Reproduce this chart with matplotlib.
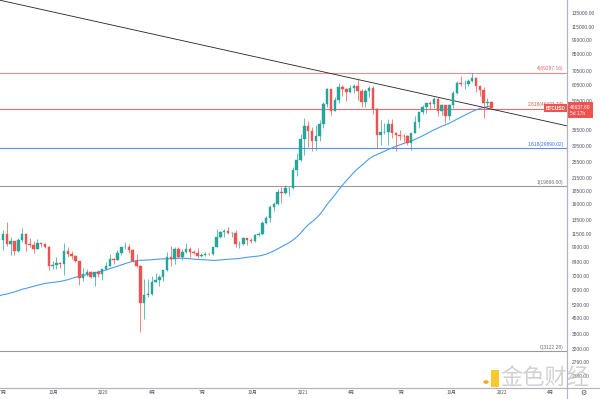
import numpy as np
import pandas as pd
import matplotlib
matplotlib.use("Agg")
import matplotlib.pyplot as plt
import matplotlib.dates as mdates
from matplotlib.patches import Rectangle, Circle
from matplotlib.lines import Line2D

plt.rcParams['font.family'] = ['Liberation Sans', 'Noto Sans CJK SC', 'DejaVu Sans']

# ─── 数据 ─────────────────────────────────────────────────────────────────────
# BTCUSD 周线（每周一开盘），2019-06-24 ~ 2021-12-13
week_start = "2019-06-24"
opens = [10850, 10800, 11450, 10250, 10600, 9500, 10800, 11550, 10300, 10150,
         9760, 10400, 10300, 10000, 8050, 8150, 8300, 8230, 9550, 9200,
         9030, 8500, 7050, 7400, 7500, 7100, 7500, 7380, 7750, 8100,
         8700, 8600, 9300, 9900, 9930, 9650, 8530, 8050, 5350, 5830,
         5880, 6770, 6900, 7130, 7700, 8900, 8730, 9700, 8900, 9450,
         9750, 9450, 9300, 9000, 9080, 9250, 9200, 9950, 11180, 11700,
         11850, 11650, 11680, 10250, 10300, 11050, 10750, 10650, 11350, 11500,
         13050, 13750, 15500, 16050, 18400, 18200, 19150, 19250, 23500, 26300,
         33000, 38200, 36000, 32300, 34300, 38900, 48600, 57500, 45200, 51200,
         59000, 57400, 55800, 58200, 59800, 56150, 50100, 56600, 58250, 46450,
         34700, 35650, 35800, 39000, 35550, 34700, 34250, 34200, 31800, 35400,
         39850, 44600, 47000, 49300, 48850, 51750, 45150, 48300, 42700, 48200,
         54950, 61550, 60900, 61300, 63300, 65500, 59700, 57300, 49350, 50100]
highs = [13880, 12000, 13200, 11100, 10650, 11000, 12300, 11600, 10950, 10600,
         10900, 10450, 10350, 10050, 8550, 8900, 8400, 10400, 9950, 9500,
         9100, 8500, 7850, 7750, 7650, 7550, 7700, 7500, 8450, 9200,
         8800, 9600, 9900, 10500, 10300, 9700, 9200, 8150, 6950, 6950,
         7200, 7450, 7250, 7700, 9450, 10050, 9950, 9950, 9750, 10400,
         9950, 9600, 9800, 9300, 9450, 9350, 10000, 12100, 11900, 12100,
         12480, 11800, 12050, 10600, 11100, 11050, 10950, 11500, 11700, 13350,
         14100, 15950, 16450, 18950, 19450, 19900, 19400, 24300, 28400, 34800,
         41950, 40200, 37900, 38500, 40900, 49700, 58350, 57500, 52650, 61800,
         60600, 58600, 60200, 61200, 64900, 57500, 58000, 59500, 59600, 46650,
         40900, 39400, 41300, 41300, 35750, 36600, 35150, 34650, 35400, 42600,
         44800, 48150, 49400, 50500, 52900, 52900, 48800, 48300, 49000, 56600,
         62900, 67000, 63700, 64300, 69000, 66300, 59900, 59200, 51950, 50500]
lows = [10300, 9600, 10100, 9100, 9150, 9400, 10500, 9500, 9900, 9350,
        9700, 9900, 9800, 7700, 7750, 7800, 7850, 7300, 8950, 8700,
        8400, 6500, 6850, 7200, 7050, 6450, 7100, 6900, 7700, 8050,
        8250, 8600, 9100, 9700, 9300, 8450, 8000, 3850, 4450, 5700,
        5860, 6750, 6450, 6800, 7650, 8100, 8200, 8800, 8650, 9300,
        8950, 9250, 8850, 8950, 9050, 9100, 9150, 9900, 11000, 11150,
        11550, 11150, 9900, 9850, 10200, 10150, 10400, 10550, 11250, 11400,
        12850, 13200, 14850, 15900, 16200, 18000, 17600, 19050, 21850, 26000,
        27700, 30400, 28800, 29200, 32300, 37400, 47000, 43000, 45100, 49300,
        53200, 50300, 55500, 55500, 51300, 47000, 47000, 53000, 43800, 30000,
        31100, 34800, 31000, 33300, 28800, 32700, 32100, 31050, 29300, 35400,
        37500, 43800, 44300, 46450, 46600, 42850, 43400, 39600, 40800, 46900,
        54400, 59500, 58000, 59400, 62300, 55600, 53500, 42000, 47100, 46500]
closes = [10800, 11450, 10250, 10600, 9500, 10800, 11550, 10300, 10150, 9760,
          10400, 10300, 10000, 8050, 8150, 8300, 8230, 9550, 9200, 9030,
          8500, 7050, 7400, 7500, 7100, 7500, 7380, 7750, 8100, 8700,
          8600, 9300, 9900, 9930, 9650, 8530, 8050, 5350, 5850, 5880,
          6770, 6900, 7130, 7700, 8900, 8730, 9700, 8900, 9450, 9750,
          9450, 9300, 9000, 9080, 9250, 9200, 9950, 11180, 11700, 11850,
          11650, 11680, 10250, 10300, 11050, 10750, 10650, 11350, 11500, 13050,
          13750, 15500, 16050, 18400, 18200, 19150, 19250, 23500, 26300, 33000,
          38200, 36000, 32300, 34300, 38900, 48600, 57500, 45200, 51200, 59000,
          57400, 55800, 58200, 59800, 56150, 50100, 56600, 58250, 46450, 34700,
          35650, 35800, 39000, 35550, 34700, 34250, 34200, 31800, 35400, 39850,
          44600, 47000, 49300, 48850, 51750, 45150, 48300, 42700, 48200, 54950,
          61550, 60900, 61300, 63300, 65500, 59700, 57300, 49350, 50100, 46637.6]

# 2018-07-16 ~ 2019-06-17 周收盘价（用于 50 周均线）
prior_closes = [7400, 8200, 7030, 6300, 6490, 6700, 7300, 6250, 6500, 6710,
                6630, 6600, 6300, 6420, 6380, 6480, 6380, 5600, 4000, 4150,
                3600, 3250, 3950, 3900, 4050, 3520, 3550, 3550, 3420, 3650,
                3650, 3830, 3800, 3920, 4000, 3990, 4100, 5200, 5150, 5300,
                5200, 5750, 7000, 8200, 8750, 8550, 7650, 8950, 10850]
MA_LEN = 50

# 斐波那契水平线
fib_names = ["4", "2.618", "1.618", "1", "0"]
fib_prices = [69297.16, 46433.74, 29890.02, 19666.00, 3122.28]
fib_colors = ["#f08a8a", "#ef6a6a", "#5b8def", "#9a9a9a", "#9a9a9a"]
fib_text_colors = ["#e06a6a", "#e05050", "#2f6fe8", "#6f6f6f", "#6f6f6f"]

# 下降趋势线两个锚点
trend_dates = ["2019-06-25", "2022-05-01"]
trend_prices = [155000, 38300]

# 右侧价格刻度
y_ticks = [135000, 115000, 99000, 85000, 70500, 60500, 50500, 36500, 30500,
           25500, 21500, 18500, 16000, 13500, 11500, 9900, 8400, 7200, 6200,
           5200, 4500, 3800, 3200, 2760, 2380]

# 时间刻度
x_tick_dates = ["2019-07-01", "2019-10-01", "2020-01-01", "2020-04-01",
                "2020-07-01", "2020-10-01", "2021-01-01", "2021-04-01",
                "2021-07-01", "2021-10-01", "2022-01-01", "2022-04-01"]
x_tick_labels = ["7月", "10月", "2020", "4月", "7月", "10月", "2021", "4月",
                 "7月", "10月", "2022", "4月"]

last_price = 46637.60
countdown = "5d 17h"

# ─── 绘图 ─────────────────────────────────────────────────────────────────────
UP, DOWN = "#26a69a", "#ef5350"
AXIS_C = "#b2b5be"
TXT_C = "#50535e"

W, H = 600, 399
fig = plt.figure(figsize=(6, 3.99), dpi=100)
ax = fig.add_axes([0, (H - 388) / H, 567 / W, 388 / H])
ax.set_yscale("log")

dates = pd.date_range(week_start, periods=len(closes), freq="7D")
x = mdates.date2num(dates)
o, h, l, c = map(np.array, (opens, highs, lows, closes))
up = c >= o
cols = np.where(up, UP, DOWN)

# 影线
ax.vlines(x, l, h, colors=cols, lw=0.5, zorder=3)
# 实体
body_lo = np.minimum(o, c)
body_hi = np.maximum(o, c)
ax.bar(x, body_hi - body_lo, bottom=body_lo, width=4.6, color=cols,
       edgecolor=cols, linewidth=0.3, zorder=4)

# 50 周均线
all_closes = pd.Series(prior_closes + closes)
ma = all_closes.rolling(MA_LEN).mean().values[len(prior_closes):]
ax.plot(x, ma, color="#4a9ee6", lw=0.8, zorder=2)

# 趋势线
ax.plot(mdates.date2num(pd.to_datetime(trend_dates)), trend_prices,
        color="#222222", lw=0.6, zorder=2)

# 斐波那契线 + 标注
for name, p, lc, tc in zip(fib_names, fib_prices, fib_colors, fib_text_colors):
    ax.axhline(p, color=lc, lw=0.8, zorder=1)
    ax.annotate(f"{name}({p:.2f})", xy=(0.994, p),
                xycoords=ax.get_yaxis_transform(),
                xytext=(0, 0.8), textcoords="offset points",
                ha="right", va="bottom", fontsize=3.5, color=tc, zorder=5)

# 品种标签 + 价格标签
ax.annotate("BTCUSD", xy=(0.997, last_price), xycoords=ax.get_yaxis_transform(),
            ha="right", va="center", fontsize=3.4, color="white",
            fontweight="bold", zorder=10,
            bbox=dict(boxstyle="square,pad=0.35", fc=DOWN, ec="none"))
ax.annotate(f"{last_price:.2f}\n{countdown}", xy=(1.0, last_price),
            xycoords=ax.get_yaxis_transform(),
            xytext=(2.2, 2.6), textcoords="offset points",
            ha="left", va="top", fontsize=3.5, color="white",
            linespacing=1.25, annotation_clip=False, zorder=10,
            bbox=dict(boxstyle="square,pad=0.45", fc=DOWN, ec="none"))

# 坐标轴
ax.set_xlim(mdates.date2num(pd.Timestamp("2019-06-25 12:00")),
            mdates.date2num(pd.Timestamp("2022-05-01")))
ax.set_ylim(2074, 155300)

ax.yaxis.tick_right()
ax.set_yticks(y_ticks)
ax.set_yticklabels([f"{v:.2f}" for v in y_ticks])
ax.yaxis.set_minor_locator(matplotlib.ticker.NullLocator())
ax.tick_params(axis="y", length=0, pad=3.4, labelsize=3.5, labelcolor=TXT_C)

ax.set_xticks(mdates.date2num(pd.to_datetime(x_tick_dates)))
ax.set_xticklabels(x_tick_labels, family=["Noto Sans CJK SC", "DejaVu Sans"])
ax.tick_params(axis="x", length=0, pad=1.6, labelsize=3.3, labelcolor=TXT_C)

for s in ("top", "left"):
    ax.spines[s].set_visible(False)
for s in ("right", "bottom"):
    ax.spines[s].set_color(AXIS_C)
    ax.spines[s].set_linewidth(0.8)

# 右侧竖线延伸到底部，时间轴上沿延伸到右边
fig.add_artist(Line2D([567 / W, 567 / W], [0, 1], color=AXIS_C, lw=0.8))
fig.add_artist(Line2D([0, 1], [(H - 388) / H] * 2, color=AXIS_C, lw=0.8))
fig.text(583 / W, (H - 393) / H, "⚙", family="DejaVu Sans", fontsize=5,
         color=TXT_C, ha="center", va="center")

# 水印
fig.add_artist(Rectangle((491 / W, (H - 387) / H), 8 / W, 17 / H,
                         transform=fig.transFigure, fc="#f5c518", ec="none",
                         alpha=0.9, zorder=20))
fig.add_artist(Circle((486 / W, (H - 382) / H), 2.8 / W,
                      transform=fig.transFigure, fc="#f39c12", ec="none",
                      alpha=0.9, zorder=20))
fig.text(545 / W, (H - 377) / H, "金色财经", family=["Noto Sans CJK SC"],
         fontsize=16, color="#c9c9c9", alpha=0.85, ha="center", va="center",
         zorder=20)

fig.savefig("out.png", dpi=100)
